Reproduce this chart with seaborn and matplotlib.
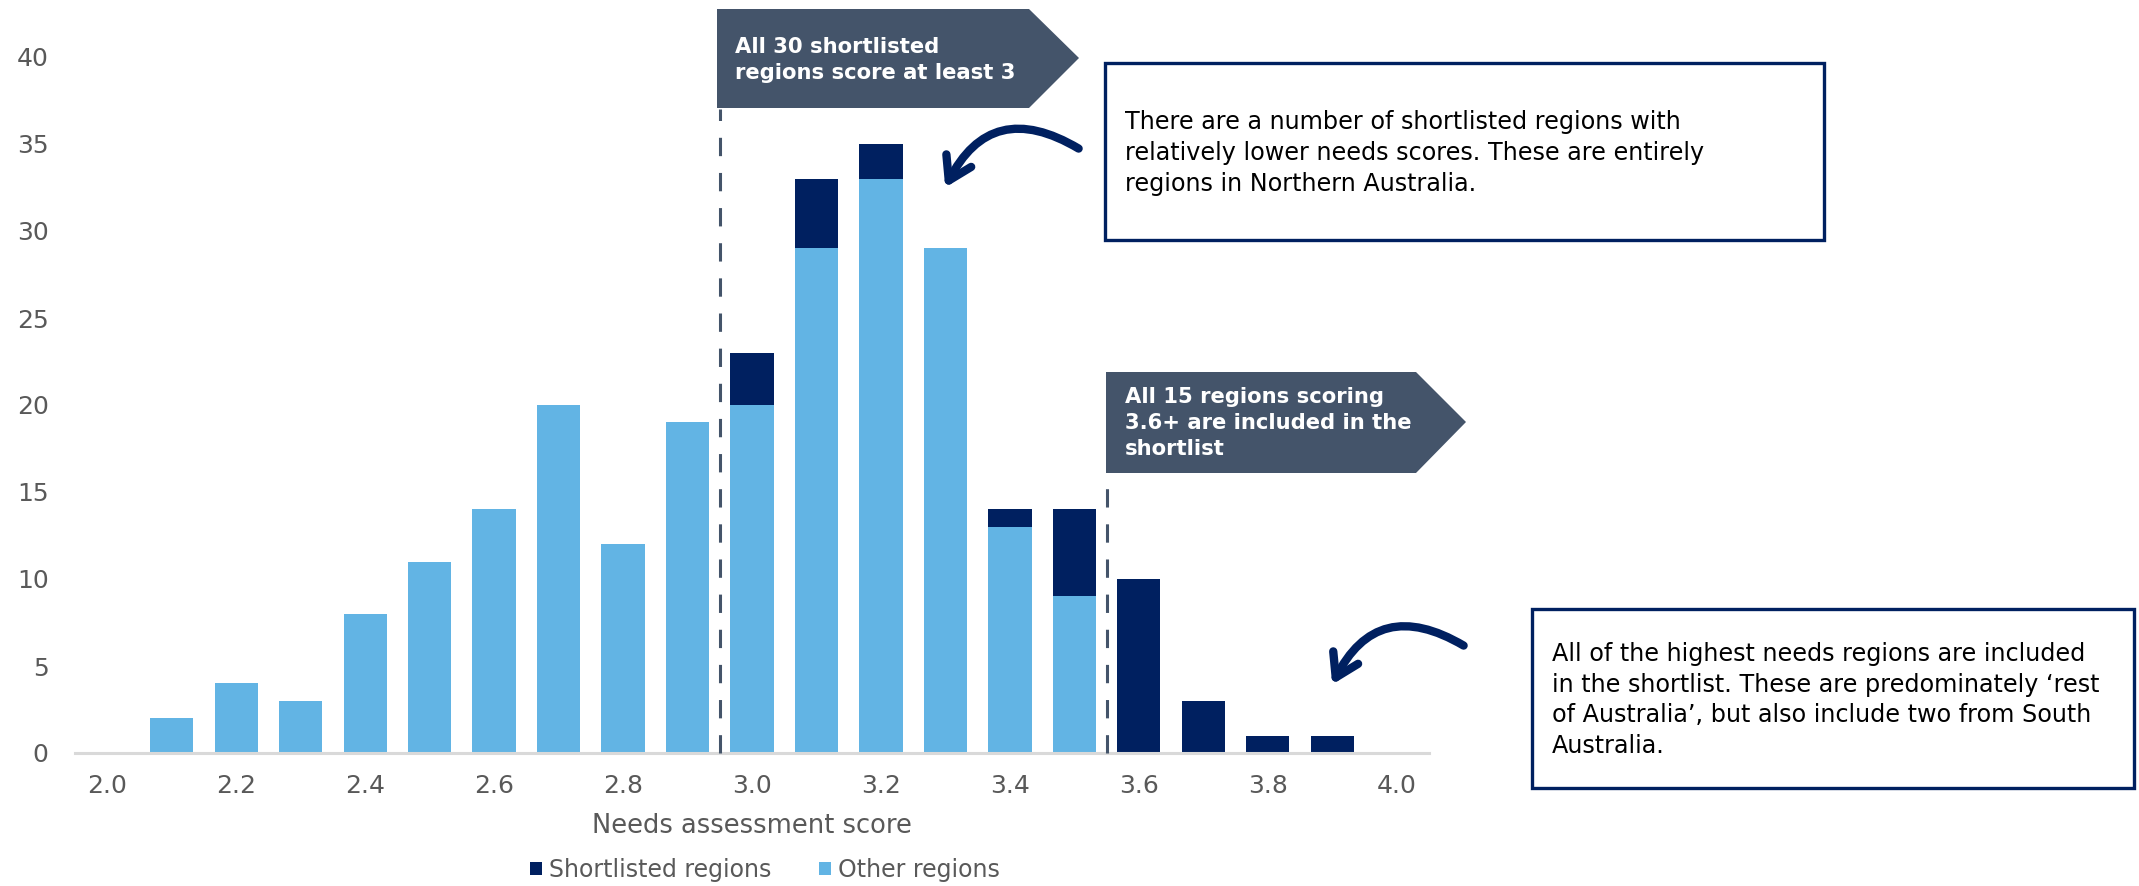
import matplotlib
matplotlib.use("Agg")
import matplotlib.pyplot as plt
import seaborn as sns
import pandas as pd
from matplotlib.patches import Polygon, Rectangle, FancyArrowPatch

# ---------------- data ----------------
scores = ["2.0", "2.1", "2.2", "2.3", "2.4", "2.5", "2.6", "2.7", "2.8", "2.9", "3.0",
          "3.1", "3.2", "3.3", "3.4", "3.5", "3.6", "3.7", "3.8", "3.9", "4.0"]
other_regions = [0, 2, 4, 3, 8, 11, 14, 20, 12, 19, 20, 29, 33, 29, 13, 9, 0, 0, 0, 0, 0]
shortlisted_regions = [0, 0, 0, 0, 0, 0, 0, 0, 0, 0, 3, 4, 2, 0, 1, 5, 10, 3, 1, 1, 0]
tick_labels = ["2.0", "2.2", "2.4", "2.6", "2.8", "3.0", "3.2", "3.4", "3.6", "3.8", "4.0"]
thresholds = [2.95, 3.55]
series_names = ["Shortlisted regions", "Other regions"]
callout_texts = ["All 30 shortlisted\nregions score at least 3",
                 "All 15 regions scoring\n3.6+ are included in the\nshortlist"]
box_texts = ["There are a number of shortlisted regions with\nrelatively lower needs scores. These are entirely\nregions in Northern Australia.",
             "All of the highest needs regions are included\nin the shortlist. These are predominately \u2018rest\nof Australia\u2019, but also include two from South\nAustralia."]

NAVY = "#002060"
LIGHT = "#62B4E4"
SLATE = "#44546A"
GREY = "#595959"

W, H = 2139, 886
sns.set_style("white")
plt.rcParams["font.family"] = ["DejaVu Sans"]

fig = plt.figure(figsize=(W / 100, H / 100), dpi=100)
ax = fig.add_axes([75 / W, 1 - 753 / H, (1429 - 75) / W, (753 - 57) / H])


def fx(x):
    return x / W


def fy(y):
    return 1 - y / H


df = pd.DataFrame({"score": scores, "other": other_regions, "short": shortlisted_regions})
df["total"] = df["other"] + df["short"]

sns.barplot(data=df, x="score", y="total", order=scores, color=NAVY, saturation=1,
            width=0.67, linewidth=0, ax=ax)
sns.barplot(data=df, x="score", y="other", order=scores, color=LIGHT, saturation=1,
            width=0.67, linewidth=0, ax=ax)

ax.set_xlim(-0.5, len(scores) - 0.5)
ax.set_ylim(0, 40)
ax.set_yticks(range(0, 41, 5))
ax.set_xticks([scores.index(t) for t in tick_labels])
ax.set_xticklabels(tick_labels)
ax.tick_params(axis="both", length=0, labelsize=18, colors=GREY)
ax.tick_params(axis="y", pad=19)
ax.tick_params(axis="x", pad=15)
for s in ["top", "right", "left"]:
    ax.spines[s].set_visible(False)
ax.spines["bottom"].set_color("#D9D9D9")
ax.spines["bottom"].set_linewidth(2.2)
ax.set_xlabel("Needs assessment score", fontsize=18.5, color=GREY, labelpad=11)
ax.set_ylabel("")

# threshold dashed lines
line_tops = [37.0, 16.1]
for t, top in zip(thresholds, line_tops):
    xpos = (t - float(scores[0])) / 0.1
    ax.plot([xpos, xpos], [0, top], color=SLATE, lw=2.2, dashes=(6, 5.5), clip_on=False, zorder=5)

# callout pentagons
pentagons = [[(717, 9), (1029, 9), (1079, 58), (1029, 108), (717, 108)],
             [(1106, 372), (1416, 372), (1466, 422), (1416, 473), (1106, 473)]]
text_pos = [(735, 60), (1125, 423)]
for verts, txt, (tx, ty) in zip(pentagons, callout_texts, text_pos):
    fig.add_artist(Polygon([(fx(x), fy(y)) for x, y in verts], closed=True,
                           transform=fig.transFigure, facecolor=SLATE, edgecolor="none"))
    fig.text(fx(tx), fy(ty), txt, color="white", fontsize=15.2, fontweight="bold",
             ha="left", va="center", linespacing=1.4)

# text boxes
boxes = [(1105, 63, 1824, 240), (1532, 609, 2134, 788)]
box_text_pos = [(1125, 153), (1552, 700)]
for (x0, y0, x1, y1), txt, (tx, ty) in zip(boxes, box_texts, box_text_pos):
    fig.add_artist(Rectangle((fx(x0), fy(y1)), fx(x1) - fx(x0), fy(y0) - fy(y1),
                             transform=fig.transFigure, facecolor="white",
                             edgecolor=NAVY, lw=2.4))
    fig.text(fx(tx), fy(ty), txt, color="black", fontsize=17.2, ha="left", va="center",
             linespacing=1.36)

# curved arrows
arrows = [((1081, 150), (944, 190)), ((1466, 647), (1331, 687))]
for (x0, y0), (x1, y1) in arrows:
    arr = FancyArrowPatch((fx(x0), fy(y0)), (fx(x1), fy(y1)), transform=fig.transFigure,
                          connectionstyle="arc3,rad=0.55",
                          arrowstyle="->,head_length=16,head_width=10",
                          color=NAVY, lw=6, capstyle="round", joinstyle="round")
    fig.add_artist(arr)

# legend
handles = [Rectangle((0, 0), 1, 1, facecolor=NAVY, edgecolor="none"),
           Rectangle((0, 0), 1, 1, facecolor=LIGHT, edgecolor="none")]
leg = fig.legend(handles, series_names, loc="center", bbox_to_anchor=(fx(765), fy(870)),
                 ncol=2, frameon=False, fontsize=17, handlelength=0.5, handleheight=0.5,
                 handletextpad=0.3, columnspacing=2.0, labelcolor=GREY)

fig.savefig("out.png", dpi=100, facecolor="white")
